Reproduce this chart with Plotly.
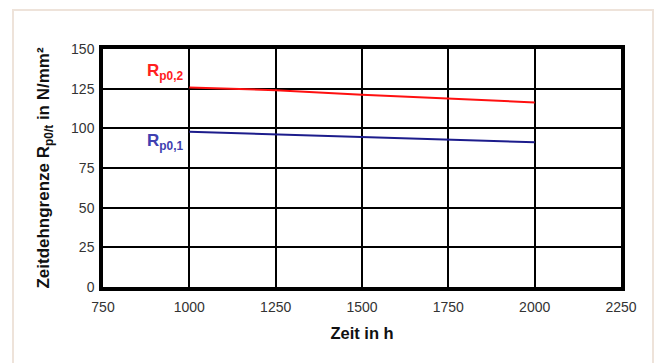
import plotly.graph_objects as go

zeit = [1000, 1250, 1500, 1750, 2000]
rp02 = [125.8, 124.0, 121.2, 118.7, 116.3]
rp01 = [97.9, 96.2, 94.7, 92.9, 91.2]

x_ticks = [750, 1000, 1250, 1500, 1750, 2000, 2250]
y_ticks = [0, 25, 50, 75, 100, 125, 150]

fig = go.Figure()
fig.add_trace(go.Scatter(x=zeit, y=rp02, mode="lines", line=dict(color="#ff1010", width=2), showlegend=False))
fig.add_trace(go.Scatter(x=zeit, y=rp01, mode="lines", line=dict(color="#1c1c8c", width=2), showlegend=False))

font = "Liberation Sans, Arial, sans-serif"
fig.update_layout(
    width=656, height=363,
    margin=dict(l=103, r=35, t=49, b=76),
    paper_bgcolor="white", plot_bgcolor="white",
    font=dict(family=font, size=14, color="#333333"),
    xaxis=dict(range=[750, 2250], tickvals=x_ticks, showgrid=True, gridcolor="black", gridwidth=1.6,
               showline=True, linecolor="black", linewidth=3.5, mirror=True, zeroline=False,
               ticks="", ticklen=0, ticklabelstandoff=4,
               title=dict(text="<b>Zeit in h</b>", font=dict(size=16.5, color="#111111"), standoff=15)),
    yaxis=dict(range=[0, 150], tickvals=y_ticks, showgrid=True, gridcolor="black", gridwidth=1.6,
               showline=True, linecolor="black", linewidth=3.5, mirror=True, zeroline=False,
               ticks="", ticklen=0, ticklabelstandoff=2,
               title=dict(text="<b>Zeitdehngrenze R<sub>p0/t</sub> in N/mm²</b>", font=dict(size=17, color="#111111"), standoff=18)),
    annotations=[
        dict(x=930, y=135.5, xref="x", yref="y", text="<b>R<sub>p0,2</sub></b>", showarrow=False,
             font=dict(size=17, color="#ff2020", family=font)),
        dict(x=930, y=91.4, xref="x", yref="y", text="<b>R<sub>p0,1</sub></b>", showarrow=False,
             font=dict(size=17, color="#4040b0", family=font)),
    ],
    shapes=[dict(type="rect", xref="paper", yref="paper", x0=-0.1737, x1=1.0618, y0=-0.34, y1=1.1639,
                 line=dict(color="#eee3da", width=2), fillcolor="rgba(0,0,0,0)", layer="below")],
)
fig.write_html("out.html", config={"displayModeBar": False},
               post_script="document.body.style.margin='0';document.body.style.overflow='hidden';")
